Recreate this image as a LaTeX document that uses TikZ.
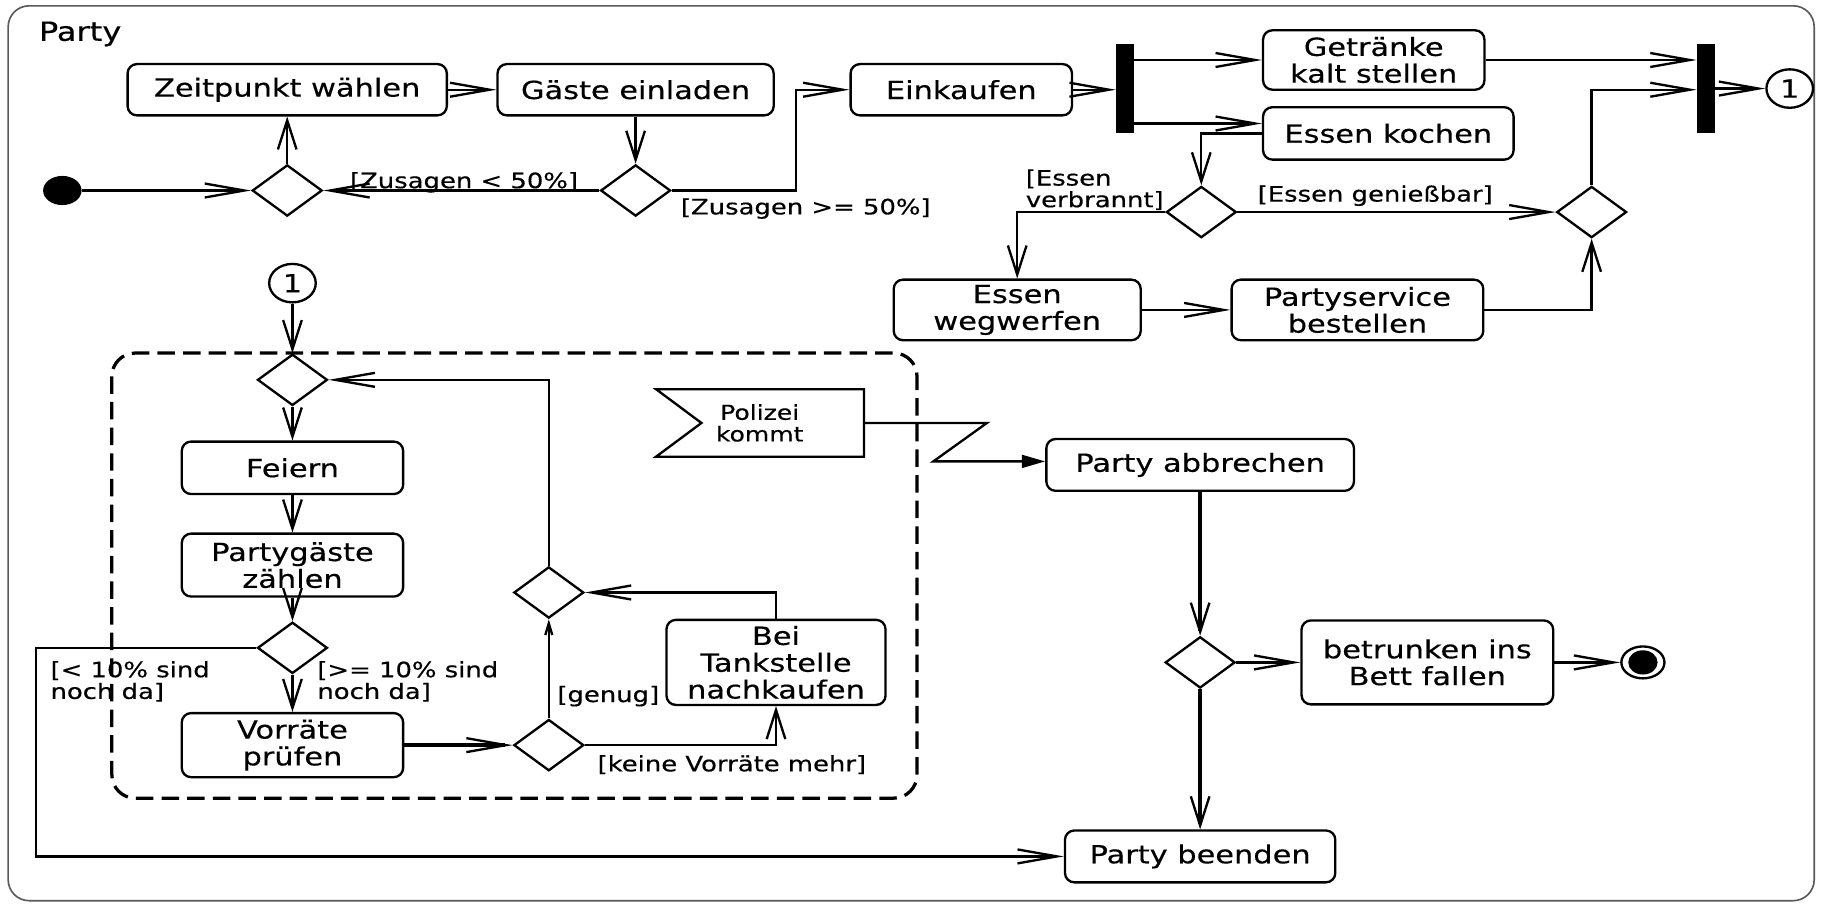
\documentclass[tikz,border=0pt]{standalone}
\usepackage{fontspec}
\usetikzlibrary{shapes.geometric,arrows.meta}
\newfontfamily\mainfam{DejaVu Sans}[FakeStretch=1.22,FakeBold=0.4]
\newcommand\fmain{\mainfam\fontsize{10.7pt}{11.5pt}\selectfont}
\newcommand\fguard{\mainfam\fontsize{9.1pt}{9.3pt}\selectfont}
\newcommand\fsig{\mainfam\fontsize{8.8pt}{9.3pt}\selectfont}
\newcommand\fparty{\mainfam\fontsize{11.3pt}{12pt}\selectfont}
\tikzset{
  act/.style={draw, rounded corners=4pt, line width=1pt, align=center, inner sep=0pt, font=\fmain},
  dec/.style={draw, diamond, line width=1pt, minimum width=30pt, minimum height=22pt, inner sep=0pt},
  forkbar/.style={fill=black, minimum width=7.5pt, minimum height=38pt, inner sep=0pt},
  connect/.style={draw, ellipse, line width=1pt, minimum width=20pt, minimum height=16.5pt, inner sep=0pt, font=\fmain},
  flow/.style={line width=1pt},
  thickflow/.style={line width=1.7pt},
  ha/.style={-{Straight Barb[length=17pt,width=6pt,line width=1pt]}},
  va/.style={-{Straight Barb[length=12.5pt,width=8pt,line width=1pt]}},
  guard/.style={font=\fguard, inner sep=0pt, align=left},
}
\begin{document}
\begin{tikzpicture}[x=0.5pt,y=-0.5pt]
\useasboundingbox (0,0) rectangle (1568,775);
% frame
\draw[black!65, line width=0.7pt, rounded corners=9pt] (7,5) rectangle (1557,773);
\node[font=\fparty, anchor=base west, inner sep=0pt] (title) at (33,35) {Party};

% region
\draw[line width=1.4pt, dash pattern=on 7.5pt off 3.5pt, rounded corners=10pt] (96,303) rectangle (787,685);

% nodes
\node[act, minimum width=137pt, minimum height=22pt] (zw) at (246.5,77) {Zeitpunkt wählen};
\node[act, minimum width=118.5pt, minimum height=22pt] (ge) at (545.5,77) {Gäste einladen};
\node[act, minimum width=95pt, minimum height=22pt] (ek) at (825,77) {Einkaufen};
\node[forkbar] (fork) at (965.5,76) {};
\node[act, minimum width=95pt, minimum height=25.5pt] (gk) at (1179,51.5) {Getränke\\kalt stellen};
\node[act, minimum width=107.5pt, minimum height=22.5pt] (ko) at (1191.5,114.5) {Essen kochen};
\node[forkbar] (join) at (1464,76) {};
\node[connect] (c1) at (1536,76) {1};
\node[fill, ellipse, minimum width=16.5pt, minimum height=12.5pt, inner sep=0pt] (start) at (53.5,163.5) {};
\node[dec] (m1) at (246.5,163.5) {};
\node[dec] (d2) at (545.5,163.5) {};
\node[dec] (de) at (1031,182) {};
\node[dec] (mf) at (1366,182) {};
\node[act, minimum width=106pt, minimum height=26pt] (ew) at (873,266) {Essen\\wegwerfen};
\node[act, minimum width=108pt, minimum height=26pt] (ps) at (1165,266) {Partyservice\\bestellen};
\node[connect] (c2) at (251,243) {1};
\node[dec] (m2) at (251,326) {};
\node[act, minimum width=95pt, minimum height=22.5pt] (fe) at (251,401.5) {Feiern};
\node[act, minimum width=95pt, minimum height=27pt] (pz) at (251,485) {Partygäste\\zählen};
\node[dec] (d3) at (251,556) {};
\node[act, minimum width=95pt, minimum height=27.5pt] (vp) at (251,639.5) {Vorräte\\prüfen};
\node[dec] (d4) at (471,639.5) {};
\node[dec] (d5) at (471,508.5) {};
\node[act, minimum width=94pt, minimum height=36.5pt] (tk) at (666,568.5) {Bei\\Tankstelle\\nachkaufen};
\node[font=\fsig, align=center, inner sep=0pt] (sig) at (652,363) {Polizei\\kommt};
\draw[line width=1pt] (563,334) -- (741.5,334) -- (741.5,392) -- (563,392) -- (602,363) -- cycle;
\coordinate (sigE) at (741.5,363);
\node[act, minimum width=132pt, minimum height=22.25pt] (pa) at (1030,399) {Party abbrechen};
\node[dec] (d6) at (1030,568.5) {};
\node[act, minimum width=108pt, minimum height=36pt] (bb) at (1225,568.5) {betrunken ins\\Bett fallen};
\node[draw, ellipse, line width=1pt, minimum width=18.5pt, minimum height=13.7pt, inner sep=0pt] (fin) at (1410,568.5) {};
\fill (fin.center) ellipse [x radius=6.3pt, y radius=5.2pt];
\node[act, minimum width=116pt, minimum height=22.25pt] (pb) at (1030,735) {Party beenden};

% guards
\node[guard, anchor=base west] (g1) at (300,161.5) {[Zusagen < 50\%]};
\node[guard, anchor=base west] (g2) at (584,184) {[Zusagen >= 50\%]};
\node[guard, anchor=north west] (g3) at (880,145) {[Essen\\verbrannt]};
\node[guard, anchor=base west] (g4) at (1079,173) {[Essen genießbar]};
\node[guard, anchor=north west] (g5) at (43,567) {[< 10\% sind\\noch da]};
\node[guard, anchor=north west] (g6) at (272,567) {[>= 10\% sind\\noch da]};
\node[guard, anchor=base west] (g7) at (478,602.5) {[genug]};
\node[guard, anchor=base west] (g8) at (512.5,662) {[keine Vorräte mehr]};

% connectors
\draw[flow,ha] (start) -- (m1);
\draw[flow,va] (m1) -- (zw);
\draw[flow,ha] (zw) -- (ge);
\draw[flow,va] (ge) -- (d2);
\draw[flow,ha] (d2) -- (m1);
\coordinate (k1) at (683,77);
\draw[flow,ha] (d2.east) -| (k1) -- (ek.west);
\draw[flow,ha] (ek.east) -- (ek.east -| fork.west);
\draw[flow,ha] (fork.east |- gk.west) -- (gk.west);
\coordinate (f2) at (973,106);
\draw[thickflow,ha] (fork.east |- f2) -- (f2 -| ko.west);
\draw[flow,ha] (gk.east) -- (gk.east -| join.west);
\draw[flow,ha] (join.east |- c1.west) -- (c1.west);
\draw[flow,va] (ko.west) -| (de.north);
\draw[flow,va] (de.west) -| (ew.north);
\draw[flow,ha] (de) -- (mf);
\draw[flow,ha] (ew) -- (ps);
\draw[flow,va] (ps.east) -| (mf.south);
\coordinate (j2) at (1456.5,77);
\draw[flow,ha] (mf.north) |- (j2 -| join.west);
\draw[flow,va] (c2) -- (m2);
\draw[flow,va] (m2) -- (fe);
\draw[flow,va] (fe) -- (pz);
\draw[flow,va] (pz) -- (d3);
\draw[flow,va] (d3) -- (vp);
\coordinate (lp) at (31,735);
\draw[flow,ha] (d3.west) -| (lp) -- (lp -| pb.west);
\draw[thickflow,ha] (vp.east) -- (vp.east -| d4.west);
\draw[flow,va] (d4.east) -| (tk.south);
\draw[flow,-{Straight Barb[length=5pt,width=3pt]}] (d4.north) -- (d5.south);
\draw[flow,ha] (tk.north) |- (d5.east);
\draw[flow,ha] (d5.north) |- (m2.east);
\coordinate (z1) at (847,363);
\coordinate (z2) at (801,396);
\draw[flow,-{Triangle[length=10pt,width=5.5pt]}] (sigE) -- (z1) -- (z2) -- (z2 -| pa.west);
\draw[thickflow,va] (pa) -- (d6);
\draw[flow,ha] (d6.east) -- (d6.east -| bb.west);
\draw[flow,ha] (bb.east |- fin.west) -- (fin.west);
\draw[thickflow,va] (d6) -- (pb);
\end{tikzpicture}
\end{document}
